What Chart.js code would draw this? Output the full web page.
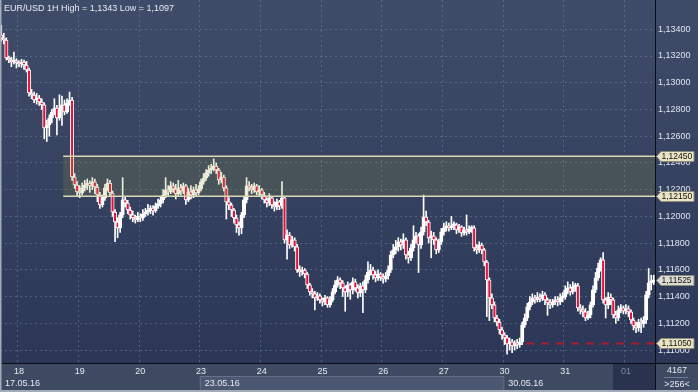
<!DOCTYPE html>
<html>
<head>
<meta charset="utf-8">
<script src="https://cdn.jsdelivr.net/npm/chart.js@4.4.1/dist/chart.umd.min.js"></script>
<style>
  html, body { margin: 0; padding: 0; background: #3d4961; overflow: hidden; }
  #wrap { position: relative; width: 698px; height: 392px; }
  canvas { display: block; }
</style>
</head>
<body>
<div id="wrap"><canvas id="chart" width="698" height="392"></canvas></div>
<script>
// EUR/USD 1H, 17.05.16 17:00 .. 01.06.16 10:00
const title = "EUR/USD 1H High = 1,1343 Low = 1,1097";

const opens = [
  1.13357,1.13335,1.1332,1.13185,1.1317,1.13155,1.13163,1.13148,1.1314,1.13155,
  1.13133,1.13095,1.12923,1.12908,1.12871,1.12886,1.12856,1.12834,1.12662,1.12684,
  1.12736,1.12781,1.12811,1.12736,1.12796,1.12834,1.12781,1.12849,1.12871,1.12295,
  1.12235,1.12183,1.12175,1.12213,1.12235,1.1225,1.12228,1.12258,1.1222,1.1216,
  1.12085,1.12138,1.12213,1.1225,1.12175,1.12033,1.11958,1.11914,1.12011,1.12123,
  1.121,1.12048,1.12011,1.11988,1.11973,1.12003,1.11988,1.12018,1.12033,1.12048,
  1.12063,1.12041,1.12078,1.12093,1.12123,1.1216,1.12198,1.12183,1.12228,1.12205,
  1.12168,1.12213,1.1219,1.12228,1.12123,1.12183,1.1216,1.12198,1.12175,1.12205,
  1.12258,1.12287,1.12325,1.12347,1.12362,1.12377,1.12347,1.12273,1.12295,1.12213,
  1.12108,1.12085,1.12048,1.11988,1.11936,1.11914,1.12011,1.12123,1.12228,1.12213,
  1.12198,1.12228,1.12183,1.12198,1.1216,1.12123,1.121,1.12138,1.12085,1.1207,
  1.12108,1.12078,1.12138,1.11824,1.11861,1.11786,1.11824,1.11772,1.11599,1.11584,
  1.11599,1.11569,1.11487,1.11435,1.1142,1.1139,1.11405,1.11375,1.1136,1.1139,
  1.11338,1.11375,1.11435,1.11487,1.11525,1.11502,1.11465,1.11435,1.11487,1.1145,
  1.1151,1.11465,1.11427,1.1148,1.1145,1.11525,1.11584,1.11599,1.11562,1.1154,
  1.11569,1.11547,1.11532,1.11554,1.11599,1.11712,1.11749,1.11772,1.11809,1.11786,
  1.11824,1.11712,1.11689,1.11764,1.11824,1.11854,1.11786,1.11884,1.11996,1.11958,
  1.11839,1.11854,1.11824,1.11749,1.11809,1.11884,1.11914,1.11929,1.11914,1.11929,
  1.11936,1.11899,1.11921,1.11876,1.11899,1.11884,1.11906,1.11914,1.11764,1.11749,
  1.11786,1.11749,1.11659,1.11525,1.1139,1.11338,1.1124,1.1121,1.11151,1.11113,
  1.11091,1.11046,1.11061,1.11031,1.11053,1.11038,1.11061,1.11188,1.1124,1.11323,
  1.1136,1.1139,1.11375,1.11397,1.11383,1.11413,1.11375,1.11353,1.11338,1.1136,
  1.11375,1.1136,1.1139,1.11397,1.1145,1.11465,1.11435,1.11472,1.1148,1.11315,
  1.113,1.11285,1.1124,1.11263,1.11338,1.1145,1.1154,1.11614,1.11674,1.11375,
  1.11338,1.11397,1.11375,1.11263,1.1124,1.113,1.11315,1.11293,1.11308,1.11285,
  1.11225,1.11181,1.11166,1.1121,1.11195,1.11225,1.11413,1.11502,1.1151
];

const highs = [
  1.1343,1.1337,1.13335,1.132,1.1319,1.1323,1.1318,1.13165,1.13175,1.1317,
  1.1316,1.1311,1.1295,1.1293,1.1292,1.12905,1.1288,1.1285,1.1272,1.1276,
  1.128,1.1288,1.1283,1.1291,1.129,1.1287,1.1288,1.1293,1.1289,1.1232,
  1.1226,1.1223,1.1225,1.1227,1.1228,1.12265,1.1229,1.1228,1.1224,1.1218,
  1.1216,1.1224,1.1228,1.1227,1.1219,1.1205,1.1199,1.1203,1.1229,1.1215,
  1.1212,1.1207,1.1204,1.1201,1.1203,1.1202,1.1205,1.1206,1.1209,1.1208,
  1.1208,1.121,1.1213,1.1215,1.122,1.1229,1.1223,1.1226,1.1225,1.1224,
  1.1227,1.1224,1.1225,1.1224,1.1221,1.1223,1.1222,1.1224,1.1223,1.1228,
  1.1232,1.1235,1.1238,1.1239,1.1243,1.124,1.1236,1.1233,1.1231,1.1223,
  1.1214,1.121,1.1206,1.1201,1.1196,1.1203,1.1215,1.1229,1.1226,1.1224,
  1.1225,1.1224,1.1223,1.1221,1.1218,1.1214,1.1217,1.1215,1.1211,1.1213,
  1.1212,1.1226,1.1215,1.119,1.1188,1.1185,1.1184,1.1179,1.1163,1.1162,
  1.1161,1.1158,1.115,1.1146,1.1144,1.1143,1.1142,1.1139,1.1141,1.114,
  1.114,1.1146,1.1152,1.1155,1.1154,1.1152,1.1148,1.1151,1.115,1.1154,
  1.1153,1.1149,1.115,1.1151,1.1156,1.1166,1.1164,1.1162,1.1159,1.116,
  1.1158,1.1157,1.1158,1.1163,1.1174,1.1179,1.1182,1.1184,1.1183,1.1187,
  1.1184,1.1174,1.1179,1.1193,1.1188,1.1187,1.1192,1.1216,1.1204,1.1197,
  1.1189,1.1188,1.1184,1.1183,1.1191,1.1195,1.1196,1.1195,1.12,1.1196,
  1.1195,1.1194,1.1193,1.1192,1.1201,1.1193,1.1193,1.1193,1.1179,1.1181,
  1.118,1.1176,1.1167,1.1154,1.1142,1.1136,1.1126,1.1123,1.1117,1.1113,
  1.1111,1.1109,1.1108,1.1107,1.1108,1.1109,1.1121,1.1127,1.1135,1.114,
  1.1142,1.1141,1.1143,1.1142,1.1144,1.1143,1.1139,1.1138,1.1138,1.114,
  1.114,1.1142,1.1143,1.1148,1.1151,1.1149,1.1151,1.115,1.115,1.1134,
  1.1133,1.1131,1.1129,1.1136,1.1148,1.1158,1.1165,1.1169,1.1173,1.1139,
  1.1143,1.1142,1.1139,1.1129,1.1133,1.1134,1.1133,1.1134,1.1133,1.113,
  1.1124,1.1121,1.1123,1.1124,1.1125,1.1144,1.1161,1.1156,1.1156
];

const lows = [
  1.1331,1.1329,1.1317,1.1315,1.1312,1.1314,1.1311,1.1312,1.13115,1.131,
  1.1308,1.129,1.1288,1.1285,1.1284,1.1283,1.128,1.1258,1.1256,1.126,
  1.127,1.1276,1.1261,1.1272,1.1268,1.1276,1.1277,1.1283,1.1227,1.1221,
  1.1215,1.1214,1.1216,1.1219,1.122,1.1218,1.122,1.1217,1.1211,1.1206,
  1.1207,1.1212,1.1219,1.1215,1.12,1.1181,1.1184,1.1188,1.1199,1.1207,
  1.1202,1.1198,1.1196,1.1195,1.1196,1.1196,1.1197,1.12,1.1201,1.1202,
  1.1201,1.1203,1.1206,1.1207,1.121,1.1214,1.1215,1.1217,1.1218,1.1213,
  1.1215,1.1216,1.1217,1.1209,1.1211,1.1213,1.1214,1.1215,1.1216,1.1219,
  1.1224,1.1227,1.123,1.1232,1.1234,1.1232,1.1224,1.1225,1.1219,1.1198,
  1.1205,1.12,1.1195,1.1188,1.1186,1.1187,1.1199,1.121,1.1219,1.1217,
  1.1218,1.1216,1.1215,1.1213,1.121,1.1207,1.1208,1.1206,1.1204,1.1205,
  1.1205,1.1206,1.118,1.1168,1.1176,1.1177,1.1174,1.1158,1.1155,1.1156,
  1.1154,1.1146,1.1141,1.1139,1.113,1.1137,1.1135,1.1133,1.1134,1.1132,
  1.1132,1.1136,1.1142,1.1147,1.1146,1.114,1.1129,1.114,1.1138,1.1142,
  1.1144,1.1139,1.114,1.1128,1.1143,1.115,1.1156,1.1153,1.1151,1.1152,
  1.1152,1.115,1.1151,1.1153,1.1158,1.1169,1.1172,1.1174,1.1175,1.1176,
  1.1168,1.1165,1.1167,1.1174,1.118,1.1158,1.1176,1.1186,1.1193,1.118,
  1.1169,1.1179,1.1172,1.1173,1.1179,1.1186,1.1189,1.1189,1.119,1.119,
  1.1187,1.1188,1.1185,1.1186,1.1186,1.1187,1.1188,1.1174,1.1172,1.1173,
  1.1172,1.1163,1.1125,1.1122,1.1131,1.1121,1.1118,1.1112,1.1108,1.1104,
  1.1097,1.11,1.1098,1.11,1.1101,1.1102,1.1104,1.1117,1.1122,1.113,
  1.1134,1.1135,1.1136,1.1136,1.1137,1.1134,1.1126,1.1131,1.1132,1.1134,
  1.1133,1.1134,1.1136,1.1138,1.1142,1.1141,1.1142,1.1144,1.1129,1.1127,
  1.1125,1.1122,1.1123,1.1124,1.1132,1.1143,1.1152,1.1159,1.1135,1.1124,
  1.1131,1.1134,1.1124,1.112,1.1122,1.1128,1.1127,1.1127,1.1125,1.112,
  1.1115,1.1113,1.1114,1.1113,1.1117,1.112,1.1139,1.1145,1.1149
];

const closes = [
  1.13335,1.1332,1.13185,1.1317,1.13155,1.13163,1.13148,1.1314,1.13155,1.13133,
  1.13095,1.12923,1.12908,1.12871,1.12886,1.12856,1.12834,1.12662,1.12684,1.12736,
  1.12781,1.12811,1.12736,1.12796,1.12834,1.12781,1.12849,1.12871,1.12295,1.12235,
  1.12183,1.12175,1.12213,1.12235,1.1225,1.12228,1.12258,1.1222,1.1216,1.12085,
  1.12138,1.12213,1.1225,1.12175,1.12033,1.11958,1.11914,1.12011,1.12123,1.121,
  1.12048,1.12011,1.11988,1.11973,1.12003,1.11988,1.12018,1.12033,1.12048,1.12063,
  1.12041,1.12078,1.12093,1.12123,1.1216,1.12198,1.12183,1.12228,1.12205,1.12168,
  1.12213,1.1219,1.12228,1.12123,1.12183,1.1216,1.12198,1.12175,1.12205,1.12258,
  1.12287,1.12325,1.12347,1.12362,1.12377,1.12347,1.12273,1.12295,1.12213,1.12108,
  1.12085,1.12048,1.11988,1.11936,1.11914,1.12011,1.12123,1.12228,1.12213,1.12198,
  1.12228,1.12183,1.12198,1.1216,1.12123,1.121,1.12138,1.12085,1.1207,1.12108,
  1.12078,1.12138,1.11824,1.11861,1.11786,1.11824,1.11772,1.11599,1.11584,1.11599,
  1.11569,1.11487,1.11435,1.1142,1.1139,1.11405,1.11375,1.1136,1.1139,1.11338,
  1.11375,1.11435,1.11487,1.11525,1.11502,1.11465,1.11435,1.11487,1.1145,1.1151,
  1.11465,1.11427,1.1148,1.1145,1.11525,1.11584,1.11599,1.11562,1.1154,1.11569,
  1.11547,1.11532,1.11554,1.11599,1.11712,1.11749,1.11772,1.11809,1.11786,1.11824,
  1.11712,1.11689,1.11764,1.11824,1.11854,1.11786,1.11884,1.11996,1.11958,1.11839,
  1.11854,1.11824,1.11749,1.11809,1.11884,1.11914,1.11929,1.11914,1.11929,1.11936,
  1.11899,1.11921,1.11876,1.11899,1.11884,1.11906,1.11914,1.11764,1.11749,1.11786,
  1.11749,1.11659,1.11525,1.1139,1.11338,1.1124,1.1121,1.11151,1.11113,1.11091,
  1.11046,1.11061,1.11031,1.11053,1.11038,1.11061,1.11188,1.1124,1.11323,1.1136,
  1.1139,1.11375,1.11397,1.11383,1.11413,1.11375,1.11353,1.11338,1.1136,1.11375,
  1.1136,1.1139,1.11397,1.1145,1.11465,1.11435,1.11472,1.1148,1.11315,1.113,
  1.11285,1.1124,1.11263,1.11338,1.1145,1.1154,1.11614,1.11674,1.11375,1.11338,
  1.11397,1.11375,1.11263,1.1124,1.113,1.11315,1.11293,1.11308,1.11285,1.11225,
  1.11181,1.11166,1.1121,1.11195,1.11225,1.11413,1.11502,1.1151,1.11525
];

// bar index where each day / week starts
const dayStarts = [7, 31, 55, 79, 103, 127, 151, 175, 199, 223, 247];
const dayLabels = ["18", "19", "20", "23", "24", "25", "26", "27", "30", "31", "01"];
const weekStarts = [0, 79, 199];
const weekLabels = ["17.05.16", "23.05.16", "30.05.16"];

const priceTicks = [1.110, 1.112, 1.114, 1.116, 1.118, 1.120, 1.122, 1.124, 1.126, 1.128, 1.130, 1.132, 1.134];
const yMin = 1.10903;
const yMax = 1.13619;

// resistance zone and support line
const zone = [1.1215, 1.1245];
const zoneStart = 25;
const supportLevel = 1.1105;
const supportStart = 208;
const lastPrice = 1.11525;
const footer = ["4167", ">256<"];

const FONT = "Liberation Sans, Arial, sans-serif";
const gridColor = "rgba(125,140,175,0.45)";
const fmt = v => v.toFixed(5).replace(".", ",");

const decor = {
  id: "decor",
  beforeDraw(chart) {
    const { ctx, chartArea: a, width, height } = chart;
    ctx.save();
    const g = ctx.createLinearGradient(0, 0, 0, a.bottom);
    g.addColorStop(0, "#3f4c69");
    g.addColorStop(1, "#2c3757");
    ctx.fillStyle = g;
    ctx.fillRect(0, 0, width, a.bottom);
    // time strip
    ctx.fillStyle = "#3e4a62";
    ctx.fillRect(0, a.bottom, width, height - a.bottom);
    const x = chart.scales.x;
    const w0 = x.getPixelForValue(weekStarts[1] - 0.5);
    const w1 = x.getPixelForValue(weekStarts[2] - 0.5);
    ctx.fillStyle = "#4c5872";
    ctx.fillRect(w0, a.bottom + 14, w1 - w0, 14);
    ctx.strokeStyle = "#65718b";
    ctx.lineWidth = 1;
    ctx.strokeRect(w0 + 0.5, a.bottom + 13.5, w1 - w0, 15);
    ctx.fillStyle = "#29334d";
    ctx.fillRect(a.right - 42, a.bottom + 1, 42, height - a.bottom - 3);
    ctx.restore();
  },
  afterDatasetsDraw(chart) {
    const { ctx, chartArea: a, scales: { x, y } } = chart;
    ctx.save();
    const x0 = x.getPixelForValue(zoneStart - 0.5);
    const yt = y.getPixelForValue(zone[1]);
    const yb = y.getPixelForValue(zone[0]);
    ctx.fillStyle = "rgba(150,160,60,0.19)";
    ctx.fillRect(x0, yt, a.right - x0, yb - yt);
    ctx.strokeStyle = "#d9d7b6";
    ctx.lineWidth = 1.5;
    ctx.beginPath();
    ctx.moveTo(x0, yt); ctx.lineTo(a.right, yt);
    ctx.moveTo(x0, yb); ctx.lineTo(a.right, yb);
    ctx.stroke();
    // support
    const ys = Math.round(y.getPixelForValue(supportLevel)) + 0.5;
    ctx.strokeStyle = "#a81c2e";
    ctx.lineWidth = 2;
    ctx.setLineDash([8, 7]);
    ctx.beginPath();
    ctx.moveTo(x.getPixelForValue(supportStart - 0.5), ys);
    ctx.lineTo(a.right, ys);
    ctx.stroke();
    ctx.restore();
  },
  afterDraw(chart) {
    const { ctx, chartArea: a, width, height, scales: { x, y } } = chart;
    ctx.save();
    ctx.fillStyle = "#0b0d14";
    ctx.fillRect(0, a.bottom, width, 1);
    ctx.fillRect(a.right, 0, 1, height);
    ctx.fillStyle = "#a3aab8";
    ctx.fillRect(0, 0, 1.5, height);
    ctx.fillRect(0, height - 2, width, 2);

    ctx.font = "9px " + FONT;
    ctx.textBaseline = "middle";
    ctx.textAlign = "left";
    ctx.fillStyle = "#e6eaf2";
    ctx.fillText(title, 4, 8.5);

    weekLabels.forEach((t, i) => {
      ctx.fillText(t, x.getPixelForValue(weekStarts[i] - 0.5) + 5, a.bottom + 20.5);
    });

    ctx.textAlign = "center";
    ctx.fillText(footer[0], a.right + 22, a.bottom + 8);
    ctx.fillText(footer[1], a.right + 22, a.bottom + 22);
    ctx.fillStyle = "#6e7a93";
    ctx.fillRect(a.right + 9, a.bottom + 14, 24, 1);

    // price tags
    const tags = [
      [zone[1], "#e9e5c4"], [zone[0], "#e9e5c4"],
      [lastPrice, "#dcdcd4"], [supportLevel, "#e9e5c4"]
    ];
    ctx.textAlign = "left";
    ctx.font = "8.5px " + FONT;
    tags.forEach(([v, c]) => {
      const py = Math.round(y.getPixelForValue(v)) + 0.5;
      ctx.beginPath();
      ctx.moveTo(a.right + 1.5, py);
      ctx.lineTo(a.right + 6, py - 5);
      ctx.lineTo(a.right + 39, py - 5);
      ctx.lineTo(a.right + 39, py + 5);
      ctx.lineTo(a.right + 6, py + 5);
      ctx.closePath();
      ctx.fillStyle = c;
      ctx.fill();
      ctx.strokeStyle = "#8d8b78";
      ctx.lineWidth = 1;
      ctx.stroke();
      ctx.fillStyle = "#111111";
      ctx.fillText(fmt(v), a.right + 6.5, py + 0.5);
    });
    ctx.restore();
  }
};

new Chart(document.getElementById("chart"), {
  type: "bar",
  data: {
    labels: opens.map((_, i) => i),
    datasets: [
      {
        label: "body",
        data: opens.map((o, i) => [o, closes[i]]),
        backgroundColor: opens.map((o, i) => closes[i] < o ? "#e3103a" : "#ffffff"),
        borderColor: "#ffffff",
        borderWidth: 1,
        borderSkipped: false,
        barThickness: 3.4,
        minBarLength: 2,
        grouped: false,
        order: 0
      },
      {
        label: "wick",
        data: lows.map((l, i) => [l, highs[i]]),
        backgroundColor: "#ffffff",
        borderWidth: 0,
        barThickness: 1,
        grouped: false,
        order: 1
      }
    ]
  },
  options: {
    responsive: false,
    animation: false,
    devicePixelRatio: 1,
    layout: { padding: 0 },
    plugins: { legend: { display: false }, tooltip: { enabled: false } },
    scales: {
      x: {
        type: "category",
        offset: true,
        grid: {
          offset: true,
          drawTicks: false,
          color: c => dayStarts.includes(c.index) ? gridColor : "transparent"
        },
        border: { display: false, dash: [2, 3] },
        ticks: {
          autoSkip: false,
          maxRotation: 0,
          padding: 3,
          font: { family: FONT, size: 9 },
          color: c => c.index === dayStarts[dayStarts.length - 1] ? "#7f8ba4" : "#e6eaf2",
          callback: (v, i) => {
            const k = dayStarts.indexOf(i);
            return k >= 0 ? dayLabels[k] : "";
          }
        },
        afterFit: s => { s.height = 29; s.paddingLeft = 0; s.paddingRight = 0; }
      },
      y: {
        position: "right",
        min: yMin,
        max: yMax,
        afterBuildTicks: s => { s.ticks = priceTicks.map(v => ({ value: v })); },
        grid: { color: gridColor, drawTicks: false },
        border: { display: false, dash: [2, 3] },
        ticks: {
          padding: 3,
          color: "#dfe5ef",
          font: { family: FONT, size: 9 },
          callback: v => fmt(v)
        },
        afterFit: s => { s.width = 43; s.paddingTop = 0; s.paddingBottom = 0; }
      }
    }
  },
  plugins: [decor]
});
</script>
</body>
</html>
